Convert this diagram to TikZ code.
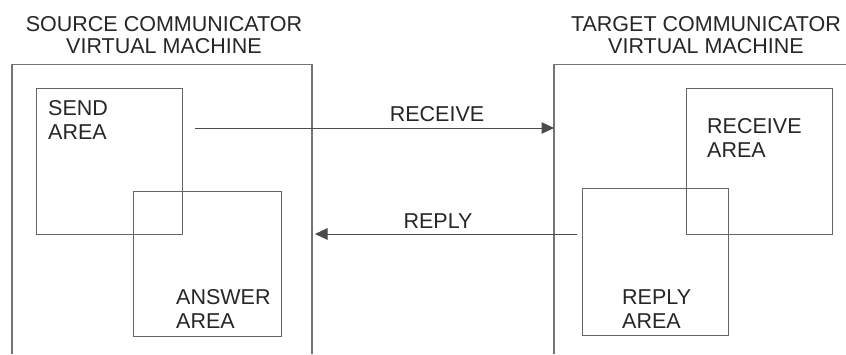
\documentclass[tikz,border=0pt]{standalone}
\usepackage{fontspec}
\setmainfont{Liberation Sans}
\usetikzlibrary{positioning,arrows.meta}

\begin{document}
\begin{tikzpicture}[
		x=1pt, y=-1pt
		,every node/.append style={inner sep=0pt, text=black!85}
		,ttl/.style={font=\fontsize{21.5}{22.5}\selectfont, align=center, anchor=north}
		,lbl/.style={font=\fontsize{21.5}{24.5}\selectfont, align=left}
		,vm/.style={draw=black!55, line width=1.3pt}
		,area/.style={draw=black!60, line width=1.1pt, minimum width=146pt, minimum height=146pt, anchor=north west}
		,msg/.style={draw=black!70, line width=1pt, -{Triangle[length=12.5pt,width=11.5pt]}}
	]
		\useasboundingbox (0,0) rectangle (846,354);
		% the two virtual machines
		\node [ttl] (srctitle) at (164,16) {SOURCE COMMUNICATOR\\VIRTUAL MACHINE};
		\node [ttl] (tgttitle) at (706,16) {TARGET COMMUNICATOR\\VIRTUAL MACHINE};
		\draw [vm] (12,354) -- (12,64.5) -- (312,64.5) -- (312,354);
		\draw [vm] (846,64.5) -- (554,64.5) -- (554,354);
		% areas
		\node [area] (send) at (36,88) {};
		\node [area, minimum width=148pt, minimum height=145pt] (answer) at (133,191) {};
		\node [area] (receive) at (686,88) {};
		\node [area, minimum height=147pt] (reply) at (582,188) {};
		\node [lbl, below right=12pt and 12pt of send.north west] (sendlbl) {SEND\\AREA};
		\node [lbl, below right=30pt and 21pt of receive.north west] (receivelbl) {RECEIVE\\AREA};
		\node [lbl, above right=8pt and 43pt of answer.south west] (answerlbl) {ANSWER\\AREA};
		\node [lbl, above right=7pt and 40pt of reply.south west] (replylbl) {REPLY\\AREA};
		% messages
		\coordinate (rcvfrom) at (195,128);
		\coordinate (rcvto) at (554,128);
		\coordinate (rplfrom) at (577,234);
		\coordinate (rplto) at (315,234);
		\draw [msg] (rcvfrom) -- (rcvto);
		\draw [msg] (rplfrom) -- (rplto);
		\node [lbl, anchor=base] (rcvlbl) at (437,121) {RECEIVE};
		\node [lbl, anchor=base] (rpllbl) at (438,228) {REPLY};
	\end{tikzpicture}
\end{document}
